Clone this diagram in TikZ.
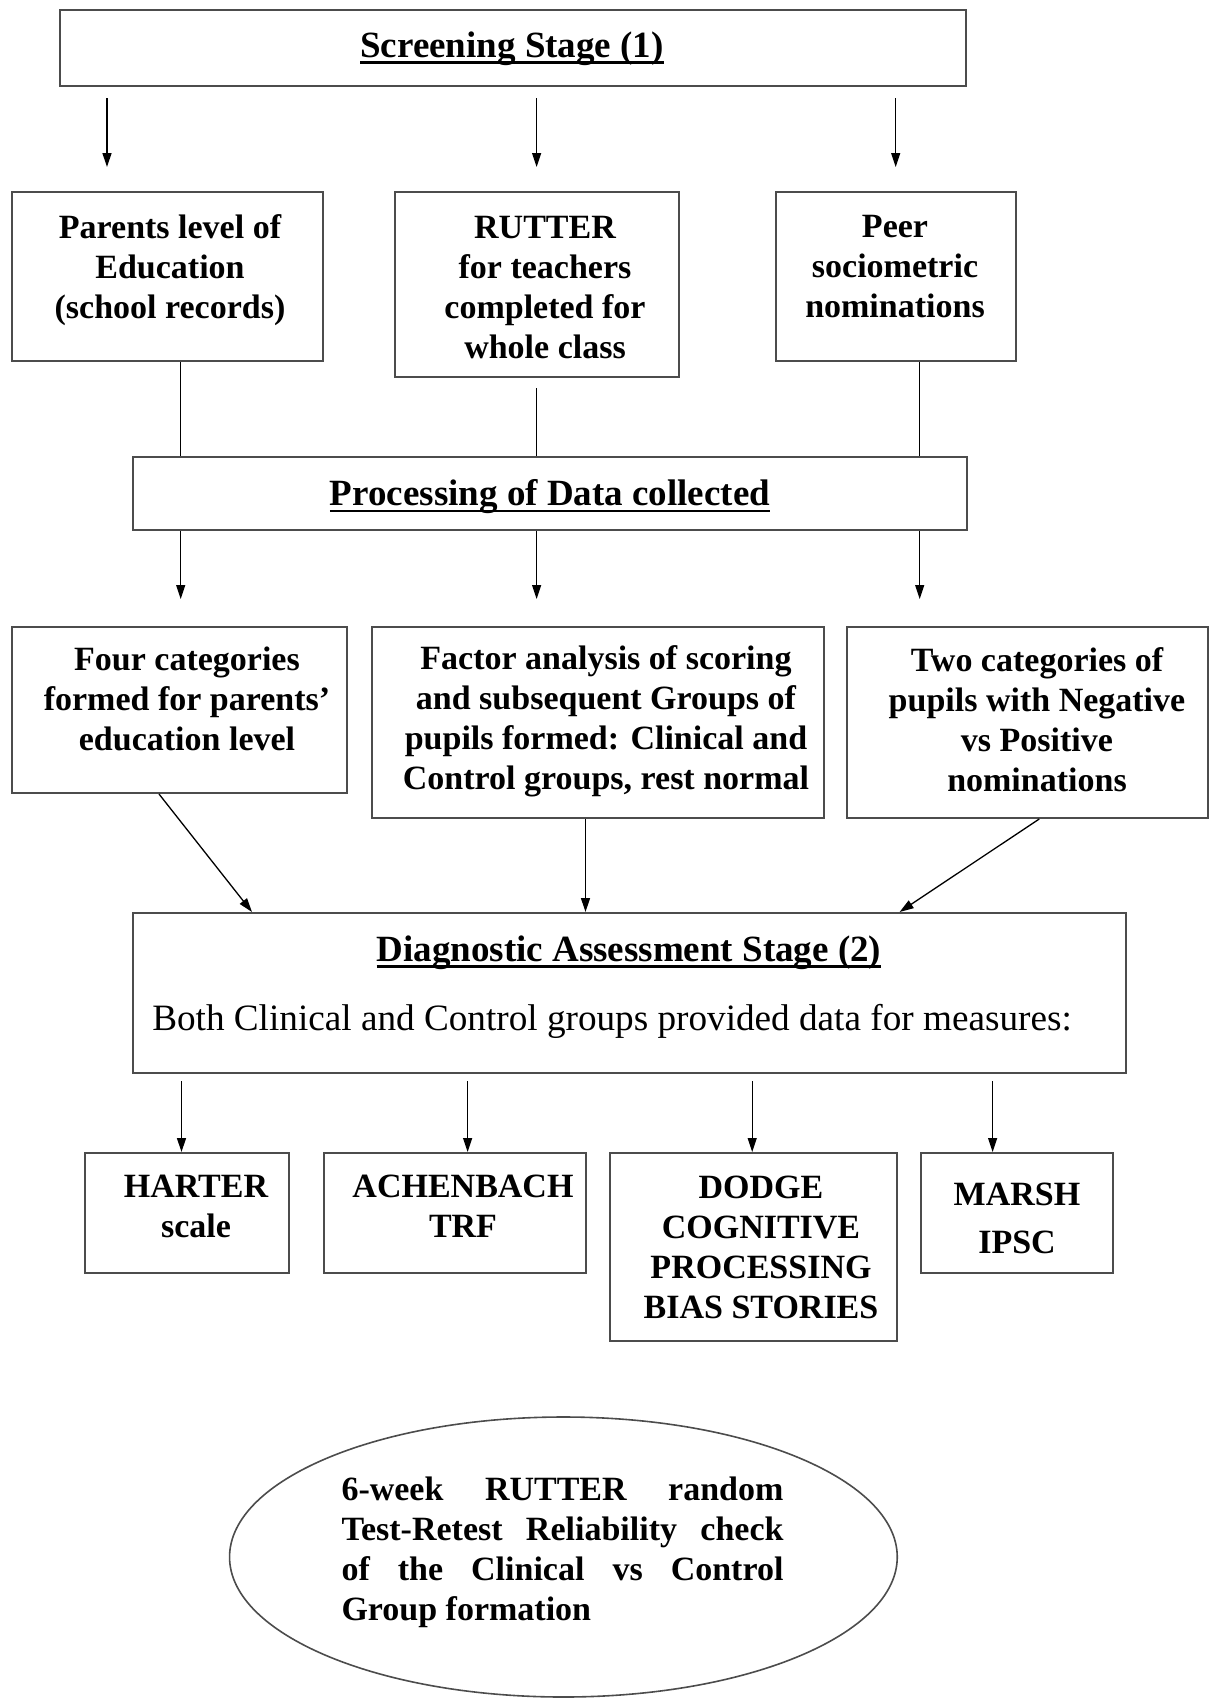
\documentclass[tikz,border=0pt]{standalone}
\usepackage{fontspec}
\setmainfont{Liberation Serif}
\usetikzlibrary{arrows.meta,calc,shapes.geometric}
\newcommand\myul[1]{\setbox0\hbox{#1}\rlap{\rule[-6pt]{\wd0}{2.4pt}}\box0}
\begin{document}
\begin{tikzpicture}[x=1pt,y=-1pt,
  box/.style={draw=black!70, line width=2pt, inner sep=0pt, rectangle},
  bt/.style={font=\bfseries\fontsize{34}{40}\selectfont, align=center, inner sep=0pt},
  ttl/.style={font=\bfseries\fontsize{37}{44}\selectfont, inner sep=0pt},
  arr/.style={-{Triangle[length=14pt,width=9pt]}, line width=1.3pt},
  ln/.style={line width=1.3pt}]
\useasboundingbox (0,0) rectangle (1216,1698);

% boxes
\node[box, minimum width=906pt, minimum height=76pt] (scr) at (513.4,48) {};
\node[box, minimum width=311pt, minimum height=169pt] (b1) at (167.1,276.5) {};
\node[box, minimum width=284pt, minimum height=185pt] (b2) at (537.4,284.5) {};
\node[box, minimum width=240.4pt, minimum height=169pt] (b3) at (895.7,276.5) {};
\node[box, minimum width=833.6pt, minimum height=73pt] (proc) at (550.2,493.5) {};
\node[box, minimum width=335pt, minimum height=166pt] (b4) at (179.9,710) {};
\node[box, minimum width=451.4pt, minimum height=191pt] (b5) at (597.9,722.5) {};
\node[box, minimum width=361.4pt, minimum height=191pt] (b6) at (1027.5,722.5) {};
\node[box, minimum width=992.6pt, minimum height=160pt] (diag) at (629.7,993) {};
\node[box, minimum width=204pt, minimum height=120pt] (m1) at (187.3,1213) {};
\node[box, minimum width=262.1pt, minimum height=120pt] (m2) at (455.2,1213) {};
\node[box, minimum width=286.9pt, minimum height=188pt] (m3) at (753.8,1247) {};
\node[box, minimum width=192.3pt, minimum height=120pt] (m4) at (1016.7,1213) {};
\node[draw=black!70, line width=1.6pt, ellipse, inner sep=0pt, minimum width=667.7pt, minimum height=280pt] (ell) at (563.4,1557) {};

% texts
\node[ttl] (tscr) at (512,49) {\myul{Screening Stage (1)}};
\node[bt] (t1) at (170,270) {Parents level of\\Education\\(school records)};
\node[bt] (t2) at (545,288) {RUTTER\\for teachers\\completed for\\whole class};
\node[bt] (t3) at (895,267) {Peer\\sociometric\\nominations};
\node[ttl] (tproc) at (550,497) {\myul{Processing of Data collected}};
\node[bt] (t4) at (187,699) {Four categories\\formed for parents’\\education level};
\node[bt] (t5) at (606,721) {Factor analysis of scoring\\and subsequent Groups of\\pupils formed: Clinical and\\Control groups, rest normal};
\node[bt] (t6) at (1037,720) {Two categories of\\pupils with Negative\\vs Positive\\nominations};
\node[ttl] (tdiag) at (629,953) {\myul{Diagnostic Assessment Stage (2)}};
\node[font=\fontsize{37.2}{44}\selectfont, inner sep=0pt] (tdiag2) at (612,1021) {Both Clinical and Control groups provided data for measures:};
\node[bt] (tm1) at (196,1206) {HARTER\\scale};
\node[bt] (tm2) at (463,1206) {ACHENBACH\\TRF};
\node[bt] (tm3) at (761,1247) {DODGE\\COGNITIVE\\PROCESSING\\BIAS STORIES};
\node[bt, font=\bfseries\fontsize{34}{48}\selectfont] (tm4) at (1017,1218) {MARSH\\IPSC};
\node[bt, align=left] (tell) at (562.5,1552) {\hbox to 442pt{6-week\hfill RUTTER\hfill random}\\
\hbox to 442pt{Test-Retest\hfill Reliability\hfill check}\\
\hbox to 442pt{of\hfill the\hfill Clinical\hfill vs\hfill Control}\\
Group formation};

% column coordinates
\coordinate (k1) at (107,0);
\coordinate (k2) at (536.6,0);
\coordinate (k3) at (895.7,0);
\coordinate (p1) at (180.7,0);
\coordinate (p2) at (536.6,0);
\coordinate (p3) at (919.7,0);
\coordinate (q1) at (159,0);
\coordinate (q2) at (252,0);
\coordinate (q3) at (585.5,0);
\coordinate (q4) at (1039.2,0);
\coordinate (q5) at (899.6,0);
\coordinate (r1) at (181.5,0);
\coordinate (r2) at (467.6,0);
\coordinate (r3) at (752.2,0);
\coordinate (r4) at (992.6,0);

% connectors
\draw[arr, shorten <=11pt, shorten >=24pt] (scr.south -| k1) -- (b1.north -| k1);
\draw[arr, shorten <=11pt, shorten >=24pt] (scr.south -| k2) -- (b2.north -| k2);
\draw[arr, shorten <=11pt, shorten >=24pt] (scr.south -| k3) -- (b3.north -| k3);
\draw[ln] (b1.south -| p1) -- (proc.north -| p1);
\draw[ln, shorten <=10pt] (b2.south -| p2) -- (proc.north -| p2);
\draw[ln] (b3.south -| p3) -- (proc.north -| p3);
\draw[arr, shorten >=27pt] (proc.south -| p1) -- (b4.north -| p1);
\draw[arr, shorten >=27pt] (proc.south -| p2) -- (b5.north -| p2);
\draw[arr, shorten >=27pt] (proc.south -| p3) -- (b6.north -| p3);
\draw[arr] (b4.south -| q1) -- (diag.north -| q2);
\draw[arr] (b5.south -| q3) -- (diag.north -| q3);
\draw[arr] (b6.south -| q4) -- (diag.north -| q5);
\draw[arr, shorten <=7pt] (diag.south -| r1) -- (m1.north -| r1);
\draw[arr, shorten <=7pt] (diag.south -| r2) -- (m2.north -| r2);
\draw[arr, shorten <=7pt] (diag.south -| r3) -- (m3.north -| r3);
\draw[arr, shorten <=7pt] (diag.south -| r4) -- (m4.north -| r4);
\end{tikzpicture}
\end{document}
